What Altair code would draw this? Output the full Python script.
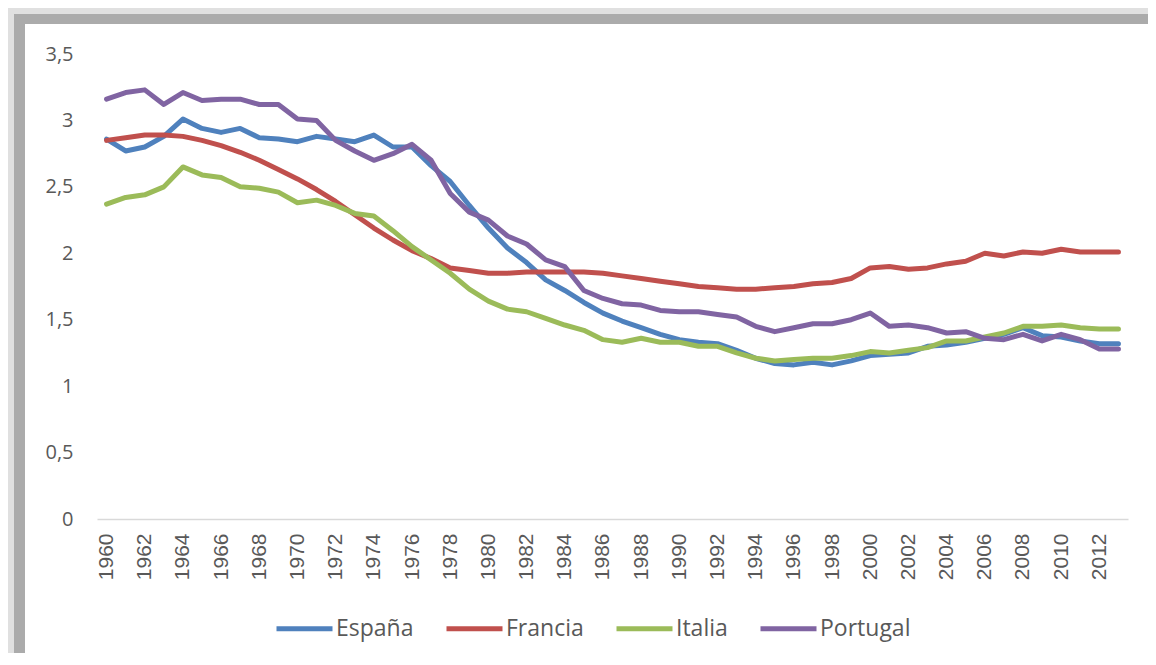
import altair as alt
import pandas as pd

years = list(range(1960, 2014))

espana = [2.86, 2.77, 2.80, 2.88, 3.01, 2.94, 2.91, 2.94, 2.87, 2.86,
          2.84, 2.88, 2.86, 2.84, 2.89, 2.80, 2.80, 2.66, 2.54, 2.36,
          2.19, 2.04, 1.93, 1.80, 1.72, 1.63, 1.55, 1.49, 1.44, 1.39,
          1.35, 1.33, 1.32, 1.27, 1.21, 1.17, 1.16, 1.18, 1.16, 1.19,
          1.23, 1.24, 1.25, 1.30, 1.31, 1.33, 1.36, 1.39, 1.44, 1.38,
          1.37, 1.34, 1.32, 1.32]

francia = [2.85, 2.87, 2.89, 2.89, 2.88, 2.85, 2.81, 2.76, 2.70, 2.63,
           2.56, 2.48, 2.39, 2.29, 2.19, 2.10, 2.02, 1.96, 1.89, 1.87,
           1.85, 1.85, 1.86, 1.86, 1.86, 1.86, 1.85, 1.83, 1.81, 1.79,
           1.77, 1.75, 1.74, 1.73, 1.73, 1.74, 1.75, 1.77, 1.78, 1.81,
           1.89, 1.90, 1.88, 1.89, 1.92, 1.94, 2.00, 1.98, 2.01, 2.00,
           2.03, 2.01, 2.01, 2.01]

italia = [2.37, 2.42, 2.44, 2.50, 2.65, 2.59, 2.57, 2.50, 2.49, 2.46,
          2.38, 2.40, 2.36, 2.30, 2.28, 2.17, 2.05, 1.95, 1.85, 1.73,
          1.64, 1.58, 1.56, 1.51, 1.46, 1.42, 1.35, 1.33, 1.36, 1.33,
          1.33, 1.30, 1.30, 1.25, 1.21, 1.19, 1.20, 1.21, 1.21, 1.23,
          1.26, 1.25, 1.27, 1.29, 1.34, 1.34, 1.37, 1.40, 1.45, 1.45,
          1.46, 1.44, 1.43, 1.43]

portugal = [3.16, 3.21, 3.23, 3.12, 3.21, 3.15, 3.16, 3.16, 3.12, 3.12,
            3.01, 3.00, 2.85, 2.77, 2.70, 2.75, 2.82, 2.70, 2.45, 2.31,
            2.25, 2.13, 2.07, 1.95, 1.90, 1.72, 1.66, 1.62, 1.61, 1.57,
            1.56, 1.56, 1.54, 1.52, 1.45, 1.41, 1.44, 1.47, 1.47, 1.50,
            1.55, 1.45, 1.46, 1.44, 1.40, 1.41, 1.36, 1.35, 1.39, 1.34,
            1.39, 1.35, 1.28, 1.28]

series_names = ["España", "Francia", "Italia", "Portugal"]
series_colors = ["#4F81BD", "#C0504D", "#9BBB59", "#8064A2"]
x_label_years = [y for y in years if y % 2 == 0]
y_ticks = [0, 0.5, 1, 1.5, 2, 2.5, 3, 3.5]

rows = []
for name, vals in zip(series_names, [espana, francia, italia, portugal]):
    for yr, v in zip(years, vals):
        rows.append({"year": yr, "value": v, "serie": name})
df = pd.DataFrame(rows)

W, H = 1031, 465
PAD_L, PAD_T, PAD_R, PAD_B = 89, 46, 20, 134
RIGHT = W + PAD_R          # right edge of the svg, in plot coordinates
BOTTOM = H + PAD_B         # bottom edge of the svg, in plot coordinates
frame_df = pd.DataFrame({"k": [0]})

# decorative frame (shadowed border of the chart object)
frame_light = alt.Chart(frame_df).mark_rect(color="#e0e0e0").encode(
    x=alt.value(-PAD_L), x2=alt.value(RIGHT), y=alt.value(-PAD_T), y2=alt.value(BOTTOM))
frame_dark = alt.Chart(frame_df).mark_rect(color="#ababab").encode(
    x=alt.value(-83), x2=alt.value(RIGHT), y=alt.value(-40), y2=alt.value(BOTTOM))
frame_white = alt.Chart(frame_df).mark_rect(color="#ffffff").encode(
    x=alt.value(-72), x2=alt.value(RIGHT), y=alt.value(-30), y2=alt.value(BOTTOM))

lines = alt.Chart(df).mark_line(strokeWidth=5, strokeCap="round", strokeJoin="round").encode(
    x=alt.X("year:O", title=None,
            scale=alt.Scale(padding=0.5),
            axis=alt.Axis(values=x_label_years, labelAngle=270, labelFont="Liberation Sans",
                          labelFontSize=21, labelColor="#595959", ticks=False,
                          domainColor="#d9d9d9", domainWidth=1.5, labelPadding=14,
                          grid=False, labelAlign="right", labelBaseline="middle",
                          zindex=1)),
    y=alt.Y("value:Q", title=None,
            scale=alt.Scale(domain=[0, 3.5], nice=False, zero=True),
            axis=alt.Axis(values=y_ticks, domain=False, ticks=False, grid=False,
                          labelFont="Open Sans", labelFontSize=20, labelColor="#595959",
                          labelPadding=24, zindex=1,
                          labelExpr="replace(format(datum.value, '~g'), '.', ',')")),
    color=alt.Color("serie:N", title=None,
                    scale=alt.Scale(domain=series_names, range=series_colors),
                    sort=series_names,
                    legend=alt.Legend(orient="none", legendX=177, legendY=544,
                                      direction="horizontal", symbolType="stroke",
                                      symbolSize=3136, symbolStrokeWidth=5,
                                      labelOffset=1, columnPadding=22,
                                      labelFont="Open Sans", labelFontSize=23,
                                      labelColor="#595959", padding=0, zindex=1)),
)

chart = alt.layer(frame_light, frame_dark, frame_white, lines).properties(
    width=W, height=H,
    padding={"left": PAD_L, "top": PAD_T, "right": PAD_R, "bottom": PAD_B},
    autosize=alt.AutoSizeParams(type="none"),
    background="white",
).configure_view(stroke=None)

chart.save("out.html", embed_options={"renderer": "svg", "actions": False})
